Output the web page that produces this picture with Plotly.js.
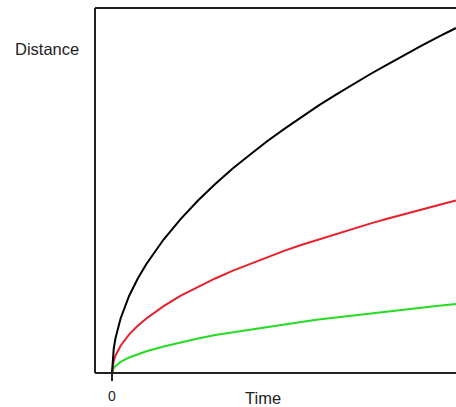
<!DOCTYPE html>
<html>
<head>
<meta charset="utf-8">
<script src="https://cdn.plot.ly/plotly-3.0.1.min.js"></script>
<style>html,body{margin:0;padding:0;background:#fff;}#chart{width:456px;height:407px;}</style>
</head>
<body>
<div id="chart"></div>
<script>
// Time (arbitrary units, 0 at the origin tick)
const time = [0, 0.02, 0.05, 0.1, 0.25, 0.5, 0.75, 1, 1.5, 2, 2.5, 3, 3.5, 4, 4.5, 5, 5.5, 6, 6.5, 7, 7.5, 8, 8.5, 9, 9.5, 10];
// Distance readings (arbitrary units)
const blackDist = [0, 0.45, 0.7, 1.0, 1.58, 2.24, 2.74, 3.16, 3.87, 4.47, 5.0, 5.48, 5.92, 6.32, 6.71, 7.07, 7.42, 7.75, 8.06, 8.37, 8.66, 8.94, 9.22, 9.49, 9.75, 10.0];
const redDist   = [0, 0.22, 0.35, 0.5, 0.79, 1.12, 1.37, 1.58, 1.94, 2.24, 2.5, 2.74, 2.96, 3.16, 3.35, 3.54, 3.71, 3.87, 4.03, 4.18, 4.33, 4.47, 4.61, 4.74, 4.87, 5.0];
const greenDist = [0, 0.09, 0.14, 0.2, 0.32, 0.45, 0.55, 0.63, 0.77, 0.89, 1.0, 1.1, 1.18, 1.26, 1.34, 1.41, 1.48, 1.55, 1.61, 1.67, 1.73, 1.79, 1.84, 1.9, 1.95, 2.0];
const xTickVals = [0];
const xTickText = ['0'];
const xLabel = 'Time';
const yLabel = 'Distance';

const font = 'Liberation Sans, Arial, sans-serif';
function trace(y, color) {
  return {x: time, y: y, type: 'scatter', mode: 'lines', line: {color: color, width: 2}, hoverinfo: 'skip', showlegend: false};
}
const data = [trace(greenDist, '#22dd22'), trace(redDist, '#e8202a'), trace(blackDist, '#000000')];
const lineStyle = {color: '#222', width: 2};
const layout = {
  width: 456, height: 407,
  margin: {l: 95, r: 0, t: 8, b: 34},
  paper_bgcolor: '#fff', plot_bgcolor: '#fff',
  showlegend: false,
  font: {family: font, color: '#222', size: 12},
  xaxis: {range: [-0.494, 10], showgrid: false, zeroline: false, showline: false,
          tickvals: xTickVals, ticktext: xTickText, ticks: 'outside', ticklen: 7, tickwidth: 2, tickcolor: '#222',
          ticklabelstandoff: 3,
          tickfont: {family: font, size: 14, color: '#222'}},
  yaxis: {range: [0, 10.58], showgrid: false, zeroline: false, showline: false, showticklabels: false, ticks: ''},
  shapes: [
    {type: 'line', xref: 'paper', yref: 'paper', x0: 0, x1: 0, y0: 0, y1: 1, line: lineStyle},
    {type: 'line', xref: 'paper', yref: 'paper', x0: 0, x1: 1, y0: 1, y1: 1, line: lineStyle},
    {type: 'line', xref: 'paper', yref: 'paper', x0: 0, x1: 1, y0: 0, y1: 0, line: lineStyle}
  ],
  annotations: [
    {text: yLabel, xref: 'paper', yref: 'paper', x: -0.134, y: 0.888, xanchor: 'center', yanchor: 'middle', showarrow: false, font: {family: font, size: 16.5, color: '#222'}},
    {text: xLabel, xref: 'paper', yref: 'paper', x: 0.465, y: -0.0685, xanchor: 'center', yanchor: 'middle', showarrow: false, font: {family: font, size: 16.5, color: '#222'}}
  ]
};
Plotly.newPlot('chart', data, layout, {displayModeBar: false, staticPlot: true});
</script>
</body>
</html>
